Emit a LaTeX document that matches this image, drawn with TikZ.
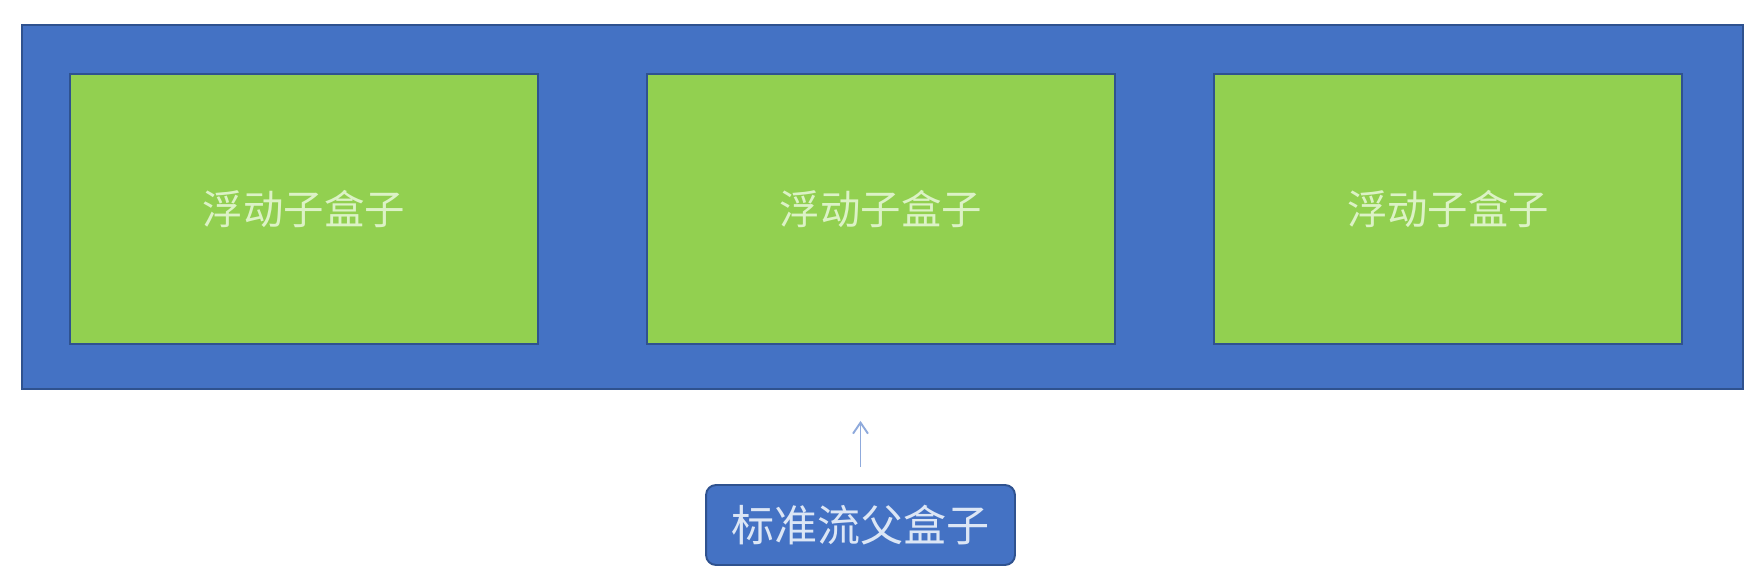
\documentclass[tikz,border=0pt]{standalone}
\usepackage{fontspec}
\newfontfamily\cjk{Noto Sans CJK SC}
\usetikzlibrary{arrows.meta, positioning}
\definecolor{officeBlue}{HTML}{4472C4}
\definecolor{officeBlueDark}{HTML}{2F528F}
\definecolor{officeGreen}{HTML}{92D050}
\definecolor{childText}{HTML}{DCF2C6}
\definecolor{labelText}{HTML}{DCE6F5}
\definecolor{arrowGray}{HTML}{8FAADC}

\begin{document}
\begin{tikzpicture}[x=0.02cm, y=-0.02cm]
  \tikzset{parentbox/.style={draw=officeBlueDark, line width=1.1pt, fill=officeBlue, minimum width=34.42cm, minimum height=7.28cm, inner sep=0pt}};
  \tikzset{childbox/.style={draw=officeBlueDark, line width=1.1pt, fill=officeGreen, minimum width=9.36cm, minimum height=5.4cm, inner sep=0pt, text=childText, font=\cjk\fontsize{23}{27}\selectfont}};
  \tikzset{labelbox/.style={draw=officeBlueDark, line width=1.1pt, fill=officeBlue, rounded corners=0.2cm, minimum width=6.18cm, minimum height=1.6cm, inner sep=0pt, text=labelText, font=\cjk\fontsize{24.5}{28}\selectfont}};
  \tikzset{pto/.style={arrowGray, line width=1.1pt, -{Straight Barb[length=0.22cm, width=0.3cm]}}};

  \useasboundingbox (0,0) rectangle (1751,573);

  \node[parentbox] (parent) at (882.5,207) {};

  \node[childbox] (f1) at (304,209) {浮动子盒子};
  \node[childbox, right=2.14cm of f1] (f2) {浮动子盒子};
  \node[childbox, right=1.95cm of f2] (f3) {浮动子盒子};

  \node[labelbox] (std) at (860.5,525) {标准流父盒子};

  \draw[pto] ([yshift=0.34cm]std.north) -- ([yshift=-0.62cm]std.north |- parent.south);

\end{tikzpicture}
\end{document}
